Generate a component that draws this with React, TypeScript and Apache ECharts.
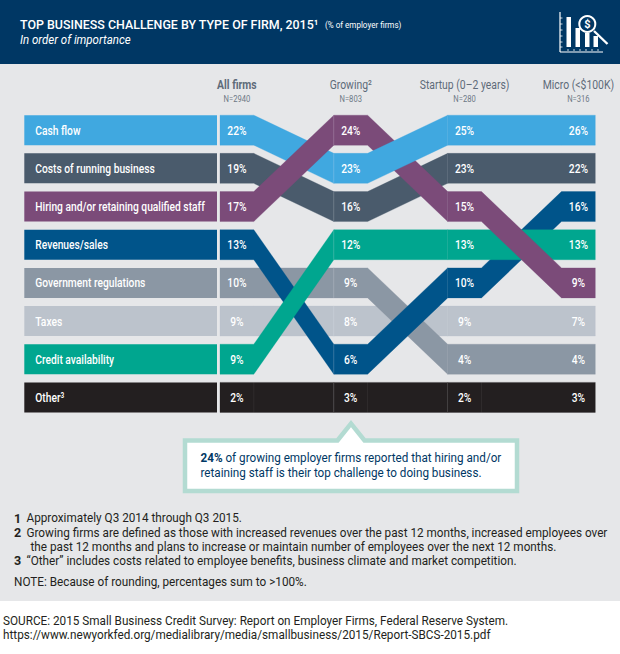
import React, { useEffect, useRef } from "react";
import * as echarts from "echarts";

const title = "TOP BUSINESS CHALLENGE BY TYPE OF FIRM, 2015¹";
const titleUnit = "(% of employer firms)";
const subtitle = "In order of importance";

const firmTypes = ["All firms", "Growing²", "Startup (0–2 years)", "Micro (<$100K)"];
const sampleSizes = ["N=2940", "N=803", "N=280", "N=316"];

const challenges = [
  "Cash flow",
  "Costs of running business",
  "Hiring and/or retaining qualified staff",
  "Revenues/sales",
  "Government regulations",
  "Taxes",
  "Credit availability",
  "Other³",
];
const colors = ["#40A8E0", "#4A5B6C", "#7B4B79", "#00548A", "#8B97A4", "#BCC3CC", "#00A68F", "#231F20"];

// share of employer firms, per firm type
const cashFlow = [22, 23, 25, 26];
const costs = [19, 16, 23, 22];
const hiring = [17, 24, 15, 9];
const revenues = [13, 6, 10, 16];
const regulations = [10, 9, 4, 4];
const taxes = [9, 8, 9, 7];
const credit = [9, 12, 13, 13];
const other = [2, 3, 2, 3];
const shares = [cashFlow, costs, hiring, revenues, regulations, taxes, credit, other];

// position in the ranking (0 = top row), per firm type
const cashFlowRank = [0, 1, 0, 0];
const costsRank = [1, 2, 1, 1];
const hiringRank = [2, 0, 2, 4];
const revenuesRank = [3, 6, 4, 2];
const regulationsRank = [4, 4, 6, 6];
const taxesRank = [5, 5, 5, 5];
const creditRank = [6, 3, 3, 3];
const otherRank = [7, 7, 7, 7];
const ranks = [cashFlowRank, costsRank, hiringRank, revenuesRank, regulationsRank, taxesRank, creditRank, otherRank];

// which ribbon lies on top in each stretch, bottom to top
const stackingAB = [7, 5, 0, 1, 4, 3, 6, 2];
const stackingBC = [7, 5, 1, 2, 0, 6, 4, 3];
const stackingCD = [0, 1, 7, 5, 4, 3, 6, 2];

const footnotes = [
  { no: "1", text: "Approximately Q3 2014 through Q3 2015." },
  { no: "2", text: "Growing firms are defined as those with increased revenues over the past 12 months, increased employees over" },
  { no: "", text: "the past 12 months and plans to increase or maintain number of employees over the next 12 months." },
  { no: "3", text: "“Other” includes costs related to employee benefits, business climate and market competition." },
];
const note = "NOTE: Because of rounding, percentages sum to >100%.";
const source = "SOURCE: 2015 Small Business Credit Survey: Report on Employer Firms, Federal Reserve System.";
const sourceUrl = "https://www.newyorkfed.org/medialibrary/media/smallbusiness/2015/Report-SBCS-2015.pdf";
const calloutLead = "24%";
const calloutLine1 = " of growing employer firms reported that hiring and/or";
const calloutLine2 = "retaining staff is their top challenge to doing business.";

const FONT = "Roboto, sans-serif";
const NARROW = 0.76;
const HALF_W = 16.9;
const HALF_H = 15;
const LABEL_GAP = 3;
const LABEL_W = 192.7;
const FOOT_FONT = `400 12.5px ${FONT}`;
const FOOT_SCALE = 0.94;

function ribbonItem(_params: any, api: any) {
  const band = api.value(0);
  const seg = api.value(1);
  const r = ranks[band];
  const [x0, y0] = api.coord([seg, r[seg]]);
  const [x1, y1] = api.coord([seg + 1, r[seg + 1]]);
  const last = seg === firmTypes.length - 2;
  const top = [
    [x0 - HALF_W, y0 - HALF_H],
    [x0 + HALF_W, y0 - HALF_H],
    [x1 - HALF_W, y1 - HALF_H],
  ];
  if (last) top.push([x1 + HALF_W, y1 - HALF_H]);
  const bottom = [
    [x1 - HALF_W, y1 + HALF_H],
    [x0 + HALF_W, y0 + HALF_H],
    [x0 - HALF_W, y0 + HALF_H],
  ];
  if (last) bottom.unshift([x1 + HALF_W, y1 + HALF_H]);
  const children: any[] = [
    {
      type: "polygon",
      shape: { points: top.concat(bottom) },
      style: { fill: colors[band], stroke: colors[band], lineWidth: 0.3 },
    },
  ];
  if (seg === 1) {
    children.push({
      type: "line",
      shape: { x1: x0 - HALF_W, y1: y0 - HALF_H, x2: x0 - HALF_W, y2: y0 + HALF_H },
      style: { stroke: "rgba(255,255,255,0.14)", lineWidth: 1 },
    });
  } else if (band === 7 && seg > 0) {
    children.push({
      type: "line",
      shape: { x1: x0 - HALF_W, y1: y0 - HALF_H, x2: x0 - HALF_W, y2: y0 + HALF_H },
      style: { stroke: "rgba(255,255,255,0.06)", lineWidth: 1 },
    });
  }
  if (band === 7) {
    children.push({
      type: "line",
      shape: { x1: x0 + HALF_W, y1: y0 - HALF_H, x2: x0 + HALF_W, y2: y0 + HALF_H },
      style: { stroke: "rgba(255,255,255,0.06)", lineWidth: 1 },
    });
  }
  return { type: "group", children };
}

function labelBarItem(_params: any, api: any) {
  const band = api.value(0);
  const [x, y] = api.coord([0, ranks[band][0]]);
  const left = x - HALF_W - LABEL_GAP - LABEL_W;
  return {
    type: "group",
    children: [
      {
        type: "rect",
        shape: { x: left, y: y - HALF_H, width: LABEL_W, height: HALF_H * 2 },
        style: { fill: colors[band] },
      },
      {
        type: "text",
        x: left + 11,
        y: y,
        scaleX: NARROW,
        style: {
          text: challenges[band],
          fill: "#ffffff",
          font: `500 13.5px ${FONT}`,
          align: "left",
          verticalAlign: "middle",
        },
      },
    ],
  };
}

function shareLabelItem(_params: any, api: any) {
  const band = api.value(0);
  const col = api.value(1);
  const [x, y] = api.coord([col, ranks[band][col]]);
  return {
    type: "text",
    x: x,
    y: y,
    scaleX: NARROW,
    style: {
      text: `${shares[band][col]}%`,
      fill: "#ffffff",
      font: `500 13.5px ${FONT}`,
      align: "center",
      verticalAlign: "middle",
    },
  };
}

function headerItem(_params: any, api: any) {
  const col = api.value(0);
  const [x, y] = api.coord([col, 0]);
  return {
    type: "group",
    children: [
      {
        type: "text",
        x: x,
        y: y - 46,
        scaleX: 0.8,
        style: {
          text: firmTypes[col],
          fill: "#5E6B79",
          font: `${col === 0 ? 700 : 400} 13px ${FONT}`,
          align: "center",
          verticalAlign: "middle",
        },
      },
      {
        type: "text",
        x: x,
        y: y - 32,
        scaleX: 0.8,
        style: {
          text: sampleSizes[col],
          fill: "#6D7885",
          font: `400 9.5px ${FONT}`,
          align: "center",
          verticalAlign: "middle",
        },
      },
    ],
  };
}

const ribbonData: number[][] = [];
[stackingAB, stackingBC, stackingCD].forEach((order, seg) => {
  order.forEach((band) => ribbonData.push([band, seg]));
});
const labelData: number[][] = [];
challenges.forEach((_, band) => firmTypes.forEach((__, col) => labelData.push([band, col])));

function txt(x: number, y: number, text: string, font: string, fill: string, scaleX = 1, extra: any = {}) {
  return {
    type: "text",
    x,
    y,
    scaleX,
    silent: true,
    style: { text, font, fill, align: "left", verticalAlign: "middle", ...extra },
  };
}

const ICON = "#ffffff";
const iconLine = (x1: number, y1: number, x2: number, y2: number, w = 1) => ({
  type: "line",
  shape: { x1, y1, x2, y2 },
  style: { stroke: ICON, lineWidth: w },
});
const iconBar = (x: number, y: number, w: number, h: number) => ({
  type: "rect",
  shape: { x, y, width: w, height: h },
  style: { fill: ICON },
});

function graphicElements() {
  const ticksY = [18, 24, 30, 36, 42, 47].map((y) => iconLine(560, y, 562.5, y, 0.8));
  const ticksX = [568, 574, 580, 586, 592, 598].map((x) => iconLine(x, 49, x, 51, 0.8));
  const foot: any[] = [];
  const footY = [518, 532.5, 547, 560.7];
  footnotes.forEach((f, i) => {
    if (f.no) foot.push(txt(14, footY[i], f.no, `700 12.5px ${FONT}`, "#231F20"));
    foot.push(txt(f.no ? 26.5 : 30.5, footY[i], f.text, FOOT_FONT, "#231F20", FOOT_SCALE));
  });
  return [
    { type: "rect", z: -2, shape: { x: 0, y: 0, width: 620, height: 64 }, style: { fill: "#003764" } },
    { type: "rect", z: -2, shape: { x: 0, y: 64, width: 620, height: 537 }, style: { fill: "#E6E7E9" } },
    txt(20, 24, title, `500 13.5px ${FONT}`, "#ffffff", 0.92),
    txt(325, 25, titleUnit, `400 9.5px ${FONT}`, "#ffffff", 0.85),
    txt(20, 40, subtitle, `italic 400 12.5px ${FONT}`, "#ffffff", 0.92),
    {
      type: "group",
      children: [
        iconLine(560, 12, 560, 52, 1.2),
        iconLine(560, 52, 603, 52, 1.2),
        ...ticksY,
        ...ticksX,
        iconBar(566.5, 17, 4.5, 30),
        iconBar(575.5, 28, 4.5, 19),
        iconBar(585, 33, 4.5, 14),
        iconBar(593.5, 36, 4.5, 11),
        iconLine(594, 31, 607.5, 44, 2.4),
        {
          type: "circle",
          shape: { cx: 587.3, cy: 24, r: 8 },
          style: { fill: "#003764", stroke: ICON, lineWidth: 2 },
        },
        {
          type: "text",
          x: 587.3,
          y: 24.5,
          style: { text: "$", font: `700 11px ${FONT}`, fill: ICON, align: "center", verticalAlign: "middle" },
        },
      ],
    },
    {
      type: "polygon",
      shape: {
        points: [
          [185, 440.5],
          [337.5, 440.5],
          [351, 423.5],
          [364.5, 440.5],
          [517, 440.5],
          [517, 491],
          [185, 491],
        ],
      },
      style: { fill: "#ffffff", stroke: "#B3DBD2", lineWidth: 4.5, lineJoin: "miter" },
    },
    {
      type: "text",
      x: 200.5,
      y: 458,
      scaleX: 0.935,
      silent: true,
      style: {
        text: `{b|${calloutLead}}{r|${calloutLine1}}`,
        verticalAlign: "middle",
        align: "left",
        rich: {
          b: { font: `700 12.5px ${FONT}`, fill: "#003764" },
          r: { font: `400 12.5px ${FONT}`, fill: "#003764" },
        },
      },
    },
    txt(200.5, 472.5, calloutLine2, `400 12.5px ${FONT}`, "#003764", 0.935),
    ...foot,
    txt(14, 582, note, FOOT_FONT, "#231F20", FOOT_SCALE),
    txt(3, 621, source, FOOT_FONT, "#231F20", FOOT_SCALE),
    txt(3, 635, sourceUrl, FOOT_FONT, "#231F20", FOOT_SCALE),
  ];
}

export default function App() {
  const ref = useRef<HTMLDivElement>(null);
  useEffect(() => {
    const chart = echarts.init(ref.current!, undefined, { renderer: "svg" });
    chart.setOption({
      animation: false,
      grid: { left: 236.9, top: 130.2, width: 341.5, height: 267.2, containLabel: false, outerBoundsMode: "none" },
      xAxis: {
        type: "category",
        boundaryGap: false,
        data: firmTypes,
        axisLine: { show: false },
        axisTick: { show: false },
        splitLine: { show: false },
        axisLabel: { show: false },
      },
      yAxis: { type: "value", inverse: true, min: 0, max: 7, show: false },
      series: [
        {
          type: "custom",
          renderItem: ribbonItem,
          data: ribbonData,
          encode: { x: 1 },
          silent: true,
          clip: false,
          z: 2,
        },
        {
          type: "custom",
          renderItem: labelBarItem,
          data: challenges.map((_, band) => [band]),
          silent: true,
          clip: false,
          z: 3,
        },
        {
          type: "custom",
          renderItem: shareLabelItem,
          data: labelData,
          silent: true,
          clip: false,
          z: 4,
        },
        {
          type: "custom",
          renderItem: headerItem,
          data: firmTypes.map((_, col) => [col]),
          silent: true,
          clip: false,
          z: 4,
        },
      ],
      graphic: graphicElements(),
    });
    return () => chart.dispose();
  }, []);
  return <div ref={ref} style={{ position: "absolute", left: 0, top: 0, width: 620, height: 654 }} />;
}
